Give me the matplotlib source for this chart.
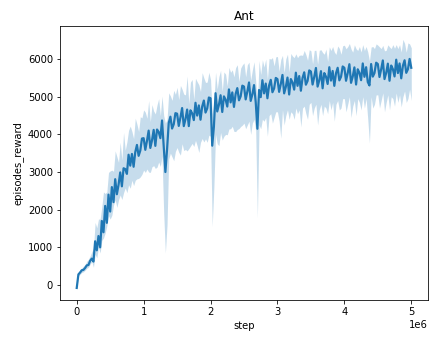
import numpy as np
import matplotlib
matplotlib.use("Agg")
import matplotlib.pyplot as plt

# 201 evaluation points, every 25k steps from 0 to 5e6
steps = np.arange(201) * 25000

mean_reward = [
    -80, 280, 330, 390, 400, 450, 520, 530, 640, 700,
    620, 1160, 920, 1300, 1000, 1700, 1400, 2100, 1650, 2400,
    1950, 2600, 2200, 2810, 2410, 2660, 2990, 2620, 3100, 3080,
    2950, 3460, 3170, 3480, 3140, 3530, 3720, 3430, 3570, 3890,
    3900, 3590, 3830, 4100, 3640, 3840, 4120, 3695, 4130, 4065,
    3900, 4370, 3700, 3000, 3600, 4305, 4470, 4155, 4270, 4565,
    4550, 4225, 4450, 4700, 4220, 4400, 4660, 4220, 4640, 4560,
    4380, 4840, 4500, 4770, 4390, 4740, 4900, 4580, 4690, 4980,
    4960, 3700, 4200, 5095, 4610, 4785, 5040, 4595, 5010, 4925,
    4740, 5195, 4850, 5115, 4730, 5075, 5230, 4905, 5010, 5295,
    5270, 4930, 5140, 5380, 4890, 5060, 5310, 4860, 4150, 5180,
    4990, 5440, 5090, 5350, 4960, 5300, 5450, 5120, 5220, 5500,
    5470, 5130, 5340, 5580, 5090, 5260, 5510, 5060, 5470, 5380,
    5190, 5640, 5290, 5550, 5160, 5500, 5650, 5320, 5420, 5700,
    5670, 5325, 5530, 5765, 5270, 5435, 5680, 5225, 5630, 5535,
    5340, 5785, 5430, 5685, 5290, 5625, 5770, 5435, 5530, 5805,
    5770, 5425, 5630, 5865, 5370, 5535, 5780, 5325, 5730, 5635,
    5440, 5885, 5530, 5785, 5390, 5300, 5870, 5535, 5630, 5905,
    5870, 5525, 5730, 5965, 5470, 5635, 5880, 5425, 5830, 5735,
    5540, 5985, 5630, 5885, 5490, 5825, 5970, 5635, 5730, 6005,
    5770,
]

upper_reward = [
    -50, 340, 410, 450, 500, 540, 630, 680, 770, 880,
    970, 1660, 1520, 1750, 1750, 2080, 2470, 2430, 2470, 2990,
    3030, 3050, 3020, 3560, 3410, 3260, 3790, 3320, 4050, 3580,
    3800, 4110, 4220, 4080, 3890, 4430, 4270, 4080, 4470, 4440,
    4650, 4590, 4430, 4900, 4340, 4790, 4620, 4545, 4780, 4950,
    4500, 5020, 4500, 4300, 4400, 5105, 5020, 4905, 5170, 5065,
    5250, 4925, 5300, 5200, 5070, 5050, 5550, 4820, 5390, 5460,
    4930, 5490, 5400, 5320, 5140, 5640, 5500, 5380, 5390, 5650,
    5460, 4550, 4850, 5650, 5210, 5535, 5700, 5145, 5660, 5600,
    5290, 5780, 5650, 5715, 5530, 5775, 5850, 5405, 5760, 5845,
    5900, 5530, 5850, 5920, 5440, 5710, 5930, 5410, 4800, 5960,
    5590, 5980, 5790, 6000, 5460, 6020, 6000, 6040, 5820, 6060,
    6070, 5680, 5990, 6100, 5640, 6010, 6130, 5660, 6150, 6080,
    6040, 6140, 6040, 6100, 6110, 6100, 6230, 6120, 5970, 6250,
    6220, 5875, 6230, 6235, 5870, 6235, 6250, 6175, 6130, 6265,
    5940, 6325, 6230, 6335, 6190, 6125, 6350, 6285, 6130, 6355,
    6370, 6275, 6330, 6415, 6270, 6185, 6380, 6275, 6230, 6335,
    6190, 6385, 6230, 6335, 6190, 5950, 6320, 6335, 6280, 6405,
    6370, 6325, 6280, 6365, 6220, 6235, 6380, 6325, 6280, 6385,
    6290, 6385, 6280, 6385, 6190, 6525, 6420, 6185, 6430, 6405,
    6300,
]

lower_reward = [
    -100, 240, 280, 330, 350, 390, 440, 470, 550, 620,
    470, 810, 720, 1000, 850, 1180, 1250, 1380, 1570, 1840,
    1750, 1850, 2120, 2260, 2060, 2260, 2390, 2270, 2450, 2580,
    2450, 2660, 2570, 2780, 2640, 2780, 2820, 2830, 2870, 2940,
    3050, 2990, 3080, 3000, 2990, 3140, 3170, 3095, 3130, 3265,
    3150, 3420, 1900, 850, 1600, 3350, 3500, 3400, 3300, 3550,
    3650, 3525, 3450, 3750, 3570, 3600, 3560, 3620, 3690, 3760,
    3680, 3840, 3700, 3520, 3790, 3890, 3800, 3880, 3790, 3980,
    3950, 1550, 2600, 4000, 3750, 3700, 4050, 3850, 3950, 4000,
    3990, 4145, 4150, 4215, 4080, 4075, 4130, 4155, 4210, 4245,
    4300, 4150, 4250, 4350, 4000, 4300, 4400, 4100, 1780, 4250,
    4150, 4400, 4350, 4450, 3950, 4500, 4550, 4300, 4450, 4600,
    4600, 4350, 3900, 4650, 4250, 4500, 4650, 4400, 4600, 4550,
    4400, 4700, 4550, 4650, 4200, 4700, 4750, 4550, 4400, 4800,
    4850, 4500, 4700, 4800, 4250, 4650, 4800, 4500, 4750, 4700,
    4550, 4900, 4650, 4850, 4350, 4800, 4900, 4650, 4700, 4950,
    4950, 4600, 4800, 5000, 4450, 4750, 4900, 4500, 4950, 4850,
    4650, 5000, 4700, 4950, 4400, 3770, 5000, 4700, 4800, 5050,
    5050, 4700, 4900, 5100, 4600, 4850, 5050, 4650, 5000, 4950,
    4750, 5100, 4850, 5050, 4730, 5000, 5150, 4850, 4950, 5200,
    4900,
]

# reference was rendered at ~72 dpi, so default sizes line up there
fig = plt.figure(figsize=(429 / 72, 339 / 72), dpi=72)
ax = fig.add_axes([60 / 429, 39 / 339, 368 / 429, 274 / 339])

ax.fill_between(steps, lower_reward, upper_reward, color="#1f77b4", alpha=0.25, linewidth=0)
ax.plot(steps, mean_reward, color="#1f77b4", linewidth=2.2)

ax.set_xlim(-0.25e6, 5.25e6)
ax.set_ylim(-400, 6880)
ax.set_title("Ant")
ax.set_xlabel("step")
ax.set_ylabel("episodes_reward")

fig.savefig("out.png", dpi=72)
